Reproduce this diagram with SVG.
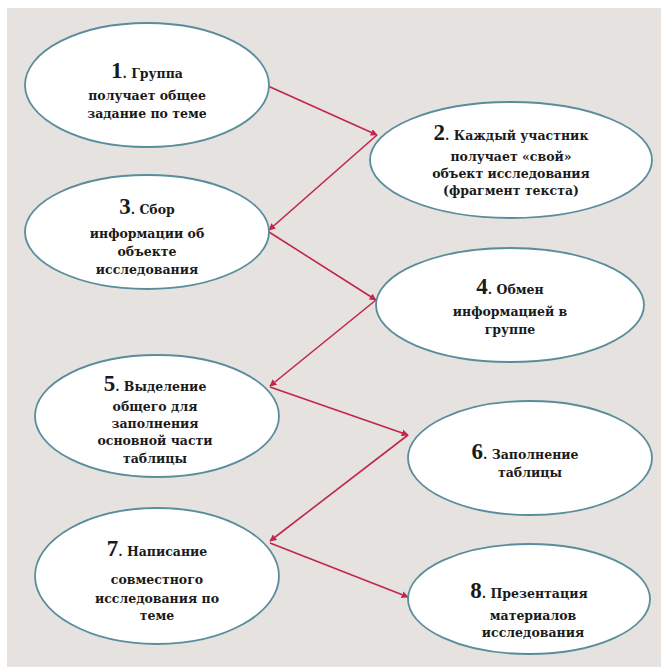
<svg xmlns="http://www.w3.org/2000/svg" width="661" height="667" viewBox="0 0 661 667">
  <defs>
    <marker id="arrowhead" viewBox="0 0 10 10" refX="9" refY="5" markerWidth="7" markerHeight="7" orient="auto" markerUnits="userSpaceOnUse">
      <path d="M0,0 L10,5 L0,10 z" fill="#c2264a"/>
    </marker>
    <style>
      .step { fill: #ffffff; stroke: #5a8d9b; stroke-width: 1.8; }
      .label { font-family: "DejaVu Serif", "Liberation Serif", serif; font-weight: bold; font-size: 12.5px; fill: #1a1a1a; text-anchor: middle; }
      .num { font-family: "Liberation Serif", "DejaVu Serif", serif; font-size: 23px; }
      .link { stroke: #c2264a; stroke-width: 1.6; fill: none; marker-end: url(#arrowhead); }
    </style>
  </defs>

  <rect x="0" y="0" width="661" height="667" fill="#ffffff"/>
  <rect x="7" y="8" width="654" height="659" fill="#e5e2df"/>

  <g id="connectors">
    <line class="link" x1="268" y1="86" x2="377" y2="135"/>
    <line class="link" x1="377" y1="135" x2="269" y2="230"/>
    <line class="link" x1="269" y1="232" x2="376" y2="300"/>
    <line class="link" x1="376" y1="300" x2="270" y2="386"/>
    <line class="link" x1="270" y1="387" x2="408" y2="435"/>
    <line class="link" x1="408" y1="435" x2="270" y2="541"/>
    <line class="link" x1="270" y1="543" x2="408" y2="597"/>
  </g>

  <g id="step1">
    <ellipse class="step" cx="147" cy="85" rx="122" ry="62"/>
    <text class="label" x="147" y="78"><tspan class="num">1</tspan>. Группа</text>
    <text class="label" x="147" y="100">получает общее</text>
    <text class="label" x="147" y="118">задание по теме</text>
  </g>

  <g id="step2">
    <ellipse class="step" cx="511" cy="160" rx="141" ry="58"/>
    <text class="label" x="511" y="140"><tspan class="num">2</tspan>. Каждый участник</text>
    <text class="label" x="511" y="161">получает «свой»</text>
    <text class="label" x="511" y="178">объект исследования</text>
    <text class="label" x="511" y="195">(фрагмент текста)</text>
  </g>

  <g id="step3">
    <ellipse class="step" cx="147" cy="232" rx="122" ry="57"/>
    <text class="label" x="147" y="214"><tspan class="num">3</tspan>. Сбор</text>
    <text class="label" x="147" y="238">информации об</text>
    <text class="label" x="147" y="256">объекте</text>
    <text class="label" x="147" y="274">исследования</text>
  </g>

  <g id="step4">
    <ellipse class="step" cx="510" cy="305" rx="134" ry="57"/>
    <text class="label" x="510" y="294"><tspan class="num">4</tspan>. Обмен</text>
    <text class="label" x="510" y="316">информацией в</text>
    <text class="label" x="510" y="334">группе</text>
  </g>

  <g id="step5">
    <ellipse class="step" cx="157" cy="416" rx="122" ry="61"/>
    <text class="label" x="155" y="391"><tspan class="num">5</tspan>. Выделение</text>
    <text class="label" x="155" y="411">общего для</text>
    <text class="label" x="155" y="428">заполнения</text>
    <text class="label" x="155" y="445">основной части</text>
    <text class="label" x="155" y="463">таблицы</text>
  </g>

  <g id="step6">
    <ellipse class="step" cx="530" cy="458" rx="122" ry="57"/>
    <text class="label" x="525" y="459"><tspan class="num">6</tspan>. Заполнение</text>
    <text class="label" x="530" y="477">таблицы</text>
  </g>

  <g id="step7">
    <ellipse class="step" cx="157" cy="576" rx="122" ry="68"/>
    <text class="label" x="157" y="556"><tspan class="num">7</tspan>. Написание</text>
    <text class="label" x="157" y="584">совместного</text>
    <text class="label" x="157" y="603">исследования по</text>
    <text class="label" x="157" y="620">теме</text>
  </g>

  <g id="step8">
    <ellipse class="step" cx="529" cy="599" rx="121" ry="55"/>
    <text class="label" x="529" y="598"><tspan class="num">8</tspan>. Презентация</text>
    <text class="label" x="533" y="620">материалов</text>
    <text class="label" x="533" y="637">исследования</text>
  </g>
</svg>
